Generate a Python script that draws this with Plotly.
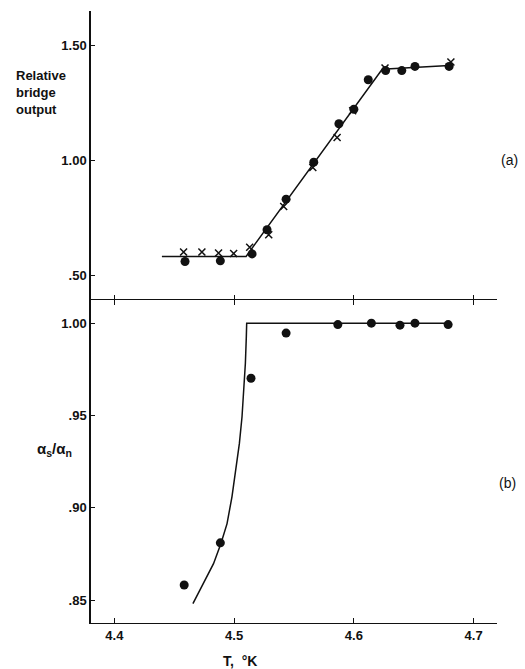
import plotly.graph_objects as go

# Panel (a): relative bridge output
a_dot_T = [4.459, 4.4885, 4.515, 4.5275, 4.5434, 4.5665, 4.5875, 4.600, 4.612, 4.6265, 4.640, 4.651, 4.6795]
a_dot_V = [0.561, 0.564, 0.594, 0.699, 0.832, 0.993, 1.160, 1.223, 1.351, 1.391, 1.391, 1.409, 1.409]
a_x_T = [4.4578, 4.4731, 4.487, 4.4996, 4.513, 4.5289, 4.5414, 4.5657, 4.586, 4.599, 4.626, 4.681]
a_x_V = [0.602, 0.602, 0.598, 0.596, 0.623, 0.677, 0.800, 0.970, 1.100, 1.216, 1.402, 1.428]
a_fit_T = [4.4397, 4.510, 4.6236, 4.6795]
a_fit_V = [0.583, 0.583, 1.397, 1.413]

# Panel (b): alpha_s / alpha_n
b_dot_T = [4.4583, 4.4885, 4.5141, 4.5434, 4.5866, 4.6146, 4.6385, 4.651, 4.6787]
b_dot_R = [0.8583, 0.8811, 0.9702, 0.9946, 0.9992, 1.000, 0.9989, 1.000, 0.9992]
b_fit_T = [4.4656, 4.4745, 4.4828, 4.4890, 4.4941, 4.4982, 4.5016, 4.5044, 4.5066,
           4.5083, 4.5094, 4.5102, 4.5105, 4.679]
b_fit_R = [0.8482, 0.8590, 0.8698, 0.8807, 0.8915, 0.9060, 0.9204, 0.9349, 0.9493,
           0.9638, 0.9783, 0.9927, 1.000, 1.000]

x_ticks = [4.4, 4.5, 4.6, 4.7]
x_labels = ["4.4", "4.5", "4.6", "4.7"]
a_ticks = [0.5, 1.0, 1.5]
a_labels = [".50", "1.00", "1.50"]
b_ticks = [0.85, 0.90, 0.95, 1.00]
b_labels = [".85", ".90", ".95", "1.00"]

FONT = "Liberation Sans"
black = "#111111"

fig = go.Figure()
fig.add_trace(go.Scatter(x=a_fit_T, y=a_fit_V, mode="lines", line=dict(color=black, width=1.5),
                         xaxis="x2", yaxis="y2", showlegend=False))
fig.add_trace(go.Scatter(x=a_x_T, y=a_x_V, mode="markers",
                         marker=dict(symbol="x-thin", size=7, line=dict(color=black, width=1.5), color=black),
                         xaxis="x2", yaxis="y2", showlegend=False))
fig.add_trace(go.Scatter(x=a_dot_T, y=a_dot_V, mode="markers",
                         marker=dict(symbol="circle", size=9, color=black),
                         xaxis="x2", yaxis="y2", showlegend=False))
fig.add_trace(go.Scatter(x=b_fit_T, y=b_fit_R, mode="lines",
                         line=dict(color=black, width=1.5),
                         xaxis="x", yaxis="y", showlegend=False))
fig.add_trace(go.Scatter(x=b_dot_T, y=b_dot_R, mode="markers",
                         marker=dict(symbol="circle", size=9, color=black),
                         xaxis="x", yaxis="y", showlegend=False))

tickfont = dict(family=FONT, size=13, color=black, weight="bold")
split = 0.528
xr = [4.3805, 4.7195]

fig.update_layout(
    width=525, height=669,
    margin=dict(l=91, r=28, t=11, b=46),
    paper_bgcolor="white", plot_bgcolor="white",
    xaxis=dict(domain=[0, 1], range=xr, anchor="y", tickvals=x_ticks, ticktext=x_labels,
               ticks="inside", ticklen=5, tickcolor=black, tickwidth=1,
               showline=True, linecolor=black, linewidth=1.4, mirror="ticks",
               showgrid=False, zeroline=False, tickfont=tickfont),
    xaxis2=dict(domain=[0, 1], range=xr, anchor="y2", matches="x", tickvals=x_ticks,
                showticklabels=False, ticks="inside", ticklen=5, tickcolor=black, tickwidth=1,
                showline=False, showgrid=False, zeroline=False),
    yaxis=dict(domain=[0, split], range=[0.8377, 1.0126], anchor="x",
               tickvals=b_ticks, ticktext=b_labels, ticks="inside", ticklen=4,
               tickcolor=black, showline=True, linecolor=black, linewidth=1.5,
               showgrid=False, zeroline=False, tickfont=tickfont),
    yaxis2=dict(domain=[split, 1], range=[0.3943, 1.65], anchor="x2",
                tickvals=a_ticks, ticktext=a_labels, ticks="inside", ticklen=4,
                tickcolor=black, showline=True, linecolor=black, linewidth=1.5,
                showgrid=False, zeroline=False, tickfont=tickfont),
    annotations=[
        dict(text="Relative<br>bridge<br>output", xref="paper", yref="paper", x=-0.19, y=0.867,
             xanchor="left", yanchor="middle", align="left", showarrow=False,
             font=dict(family=FONT, size=13, color=black, weight="bold")),
        dict(text="(a)", xref="paper", yref="paper", x=1.032, y=0.7565,
             xanchor="center", yanchor="middle", showarrow=False,
             font=dict(family=FONT, size=14, color=black)),
        dict(text="(b)", xref="paper", yref="paper", x=1.027, y=0.2288,
             xanchor="center", yanchor="middle", showarrow=False,
             font=dict(family=FONT, size=14, color=black)),
        dict(text="α<sub>s</sub>/α<sub>n</sub>", xref="paper", yref="paper", x=-0.089, y=0.283,
             xanchor="center", yanchor="middle", showarrow=False,
             font=dict(family=FONT, size=15, color=black, weight="bold")),
        dict(text="T,  °K", xref="paper", yref="paper", x=0.367, y=-0.062,
             xanchor="center", yanchor="middle", showarrow=False,
             font=dict(family=FONT, size=14, color=black, weight="bold")),
    ],
)

fig.write_html("out.html", config={"displayModeBar": False},
               post_script="document.body.style.margin='0';document.body.style.overflow='hidden';")
